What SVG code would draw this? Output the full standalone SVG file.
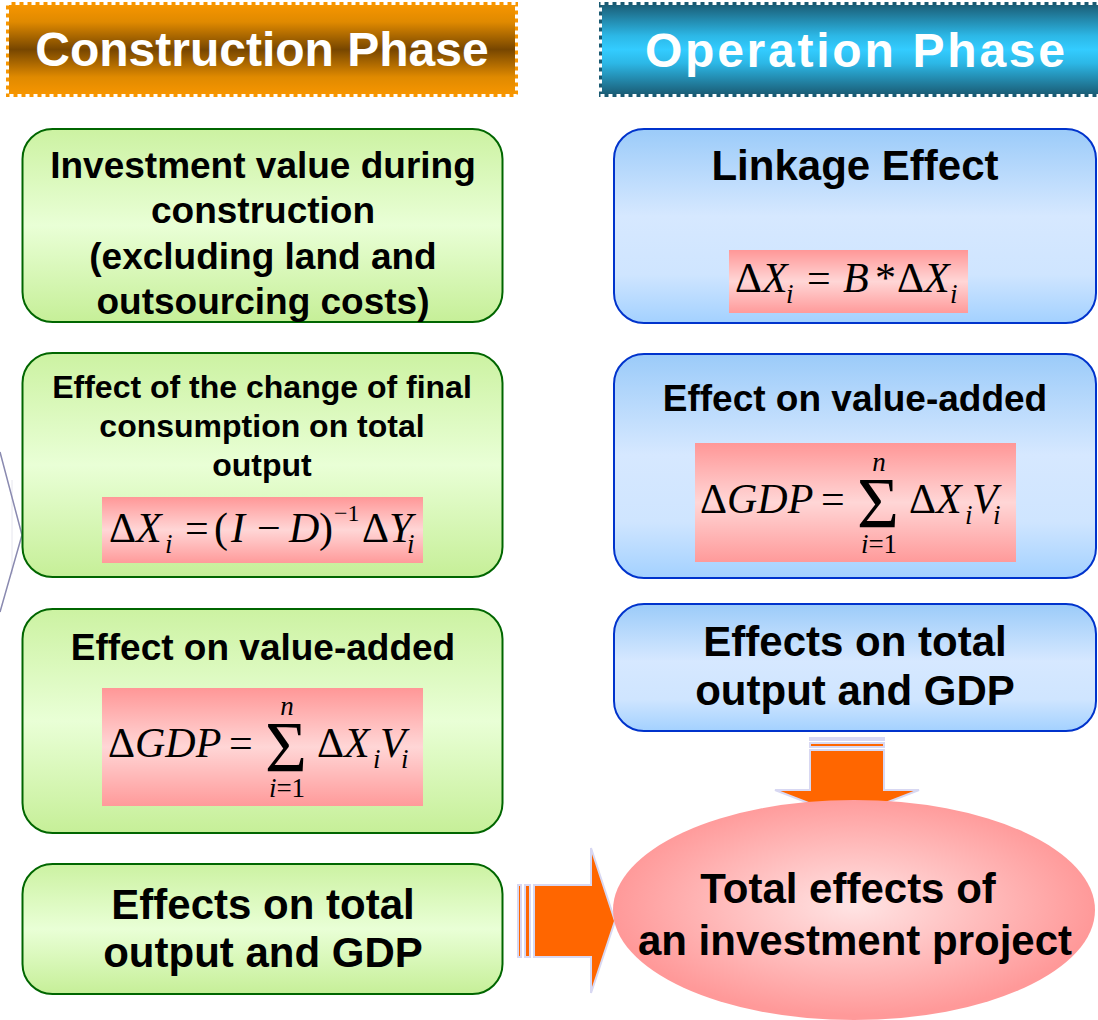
<svg xmlns="http://www.w3.org/2000/svg" width="1098" height="1020" viewBox="0 0 1098 1020">
  <defs>
    <linearGradient id="gConstr" x1="0" y1="0" x2="0" y2="1">
      <stop offset="0" stop-color="#F89600"/>
      <stop offset="0.2" stop-color="#E08A00"/>
      <stop offset="0.5" stop-color="#774600"/>
      <stop offset="0.8" stop-color="#E08A00"/>
      <stop offset="1" stop-color="#F89600"/>
    </linearGradient>
    <linearGradient id="gOper" x1="0" y1="0" x2="0" y2="1">
      <stop offset="0" stop-color="#1A5A72"/>
      <stop offset="0.35" stop-color="#2CB7E6"/>
      <stop offset="0.5" stop-color="#33CCFF"/>
      <stop offset="0.65" stop-color="#2CB7E6"/>
      <stop offset="1" stop-color="#1A5A72"/>
    </linearGradient>
    <linearGradient id="gGreen" x1="0" y1="0" x2="0" y2="1">
      <stop offset="0" stop-color="#CCF2A2"/>
      <stop offset="0.5" stop-color="#E9FFD6"/>
      <stop offset="1" stop-color="#C6EF98"/>
    </linearGradient>
    <linearGradient id="gBlue" x1="0" y1="0" x2="0" y2="1">
      <stop offset="0" stop-color="#9BCBF9"/>
      <stop offset="0.45" stop-color="#D6E8FF"/>
      <stop offset="0.75" stop-color="#CFE5FF"/>
      <stop offset="1" stop-color="#A3D1FF"/>
    </linearGradient>
    <linearGradient id="gPink" x1="0" y1="0" x2="0" y2="1">
      <stop offset="0" stop-color="#FF9797"/>
      <stop offset="0.5" stop-color="#FFD6D6"/>
      <stop offset="1" stop-color="#FF9A9A"/>
    </linearGradient>
    <radialGradient id="gOval" cx="0.5" cy="0.48" r="0.5">
      <stop offset="0" stop-color="#FFE4E4"/>
      <stop offset="1" stop-color="#FF9999"/>
    </radialGradient>
    <style>
      .hdr { font-family: "Liberation Sans", Arial, sans-serif; font-weight: bold; font-size: 48px; fill: #FFFFFF; text-anchor: middle; }
      .dash { fill: none; stroke: #FFFFFF; stroke-width: 3; stroke-dasharray: 4 4; }
      .gbox { fill: url(#gGreen); stroke: #006600; stroke-width: 2; }
      .bbox { fill: url(#gBlue); stroke: #0033CC; stroke-width: 2; }
      .fbox { fill: url(#gPink); }
      .lbl { font-family: "Liberation Sans", Arial, sans-serif; font-weight: bold; fill: #000000; text-anchor: middle; }
      .s32 { font-size: 32px; }
      .s37 { font-size: 37px; }
      .s42 { font-size: 42px; }
      .m { font-family: "Liberation Serif", "Times New Roman", serif; font-size: 42px; fill: #000000; }
      .ms { font-family: "Liberation Serif", "Times New Roman", serif; font-size: 27px; fill: #000000; }
      .sup { font-family: "Liberation Serif", "Times New Roman", serif; font-size: 24px; fill: #000000; }
      .it { font-style: italic; }
      .sig { font-family: "Liberation Serif", "Times New Roman", serif; font-size: 72px; fill: #000000; }
      .arr { fill: #FF6600; stroke: #D8D8F2; stroke-width: 2; }
    </style>
  </defs>

  <!-- phase headers -->
  <g id="hdr-construction">
    <rect x="7.5" y="3.5" width="509" height="92" fill="url(#gConstr)" stroke="#F89600" stroke-width="3"/>
    <rect x="7.5" y="3.5" width="509" height="92" class="dash"/>
    <text class="hdr" x="262" y="66">Construction Phase</text>
  </g>
  <g id="hdr-operation">
    <rect x="600.5" y="3.5" width="520" height="92" fill="url(#gOper)" stroke="#1A5A72" stroke-width="3"/>
    <rect x="600.5" y="3.5" width="520" height="92" class="dash"/>
    <text class="hdr" x="855" y="67" textLength="420" lengthAdjust="spacing">Operation Phase</text>
  </g>

  <!-- faint edge lines at the left margin -->
  <g id="edge">
    <line x1="12" y1="480" x2="12" y2="574" stroke="#E6E6EE" stroke-width="1"/>
    <polyline points="0,452 22,535 0,612" fill="none" stroke="#8A8AB0" stroke-width="1.5"/>
  </g>

  <!-- construction phase column -->
  <g id="c-investment">
    <rect class="gbox" x="22.5" y="129" width="480" height="193" rx="30"/>
    <text class="lbl s37" x="263" y="178">Investment value during</text>
    <text class="lbl s37" x="263" y="223">construction</text>
    <text class="lbl s37" x="263" y="269">(excluding land and</text>
    <text class="lbl s37" x="263" y="314">outsourcing costs)</text>
  </g>

  <g id="c-consumption">
    <rect class="gbox" x="22.5" y="353" width="480" height="224" rx="30"/>
    <text class="lbl s32" x="262" y="398">Effect of the change of final</text>
    <text class="lbl s32" x="262" y="437">consumption on total</text>
    <text class="lbl s32" x="262" y="476">output</text>
    <rect class="fbox" x="102" y="497" width="321" height="66"/>
    <text class="m" x="109" y="542">Δ<tspan class="it">X</tspan></text>
    <text class="ms it" x="165" y="553">i</text>
    <text class="m" x="185" y="542">=</text>
    <text class="m" x="214" y="542">(</text>
    <text class="m it" x="231" y="542">I</text>
    <text class="m" x="257" y="542">−</text>
    <text class="m it" x="289" y="542">D</text>
    <text class="m" x="319" y="542">)</text>
    <text class="sup" x="334" y="521">−1</text>
    <text class="m" x="362" y="542">Δ<tspan class="it">Y</tspan></text>
    <text class="ms it" x="407" y="553">i</text>
  </g>

  <g id="c-valueadded">
    <rect class="gbox" x="22.5" y="609" width="480" height="224" rx="30"/>
    <text class="lbl s37" x="263" y="660">Effect on value-added</text>
    <rect class="fbox" x="102" y="688" width="321" height="118"/>
    <g id="c-gdp-formula">
      <text class="m" x="108" y="757">Δ<tspan class="it">GDP</tspan></text>
      <text class="m" x="229" y="757">=</text>
      <text class="sig" x="265" y="771">Σ</text>
      <text class="ms it" x="287" y="715" text-anchor="middle">n</text>
      <text class="ms" x="287" y="797" text-anchor="middle"><tspan class="it">i</tspan>=1</text>
      <text class="m" x="317" y="757">Δ<tspan class="it">X</tspan></text>
      <text class="ms it" x="373" y="768">i</text>
      <text class="m it" x="380" y="757">V</text>
      <text class="ms it" x="401" y="768">i</text>
    </g>
  </g>

  <g id="c-total">
    <rect class="gbox" x="22.5" y="864" width="480" height="130" rx="30"/>
    <text class="lbl s42" x="263" y="919">Effects on total</text>
    <text class="lbl s42" x="263" y="967">output and GDP</text>
  </g>

  <!-- operation phase column -->
  <g id="o-linkage">
    <rect class="bbox" x="614" y="129" width="482" height="194" rx="30"/>
    <text class="lbl s42" x="855" y="180">Linkage Effect</text>
    <rect class="fbox" x="729" y="250" width="239" height="63"/>
    <text class="m" x="735" y="292">Δ<tspan class="it">X</tspan></text>
    <text class="ms it" x="786" y="303">i</text>
    <text class="m" x="807" y="292">=</text>
    <text class="m it" x="843" y="292">B</text>
    <text class="m" x="875" y="292">*</text>
    <text class="m" x="897" y="292">Δ<tspan class="it">X</tspan></text>
    <text class="ms it" x="950" y="303">i</text>
  </g>

  <g id="o-valueadded">
    <rect class="bbox" x="614" y="354" width="482" height="224" rx="30"/>
    <text class="lbl s37" x="855" y="411">Effect on value-added</text>
    <rect class="fbox" x="695" y="443" width="321" height="119"/>
    <g id="o-gdp-formula" transform="translate(592,-244)">
      <text class="m" x="108" y="757">Δ<tspan class="it">GDP</tspan></text>
      <text class="m" x="229" y="757">=</text>
      <text class="sig" x="265" y="771">Σ</text>
      <text class="ms it" x="287" y="715" text-anchor="middle">n</text>
      <text class="ms" x="287" y="797" text-anchor="middle"><tspan class="it">i</tspan>=1</text>
      <text class="m" x="317" y="757">Δ<tspan class="it">X</tspan></text>
      <text class="ms it" x="373" y="768">i</text>
      <text class="m it" x="380" y="757">V</text>
      <text class="ms it" x="401" y="768">i</text>
    </g>
  </g>

  <g id="o-total">
    <rect class="bbox" x="614" y="604" width="482" height="127" rx="30"/>
    <text class="lbl s42" x="855" y="656">Effects on total</text>
    <text class="lbl s42" x="855" y="705">output and GDP</text>
  </g>

  <!-- block arrows into the result -->
  <g id="connectors">
    <g id="arrow-right">
      <rect class="arr" x="518" y="885" width="3" height="72"/>
      <rect class="arr" x="525" y="885" width="5" height="72"/>
      <polygon class="arr" points="534,885 591,885 591,848 615,921 591,993 591,957 534,957"/>
    </g>
    <g id="arrow-down">
      <rect class="arr" x="810" y="738" width="74" height="2"/>
      <rect class="arr" x="810" y="743" width="74" height="4"/>
      <polygon class="arr" points="810,750 884,750 884,790 919,790 847,818 775,790 810,790"/>
    </g>
  </g>

  <g id="result">
    <ellipse cx="854" cy="910" rx="241" ry="110" fill="url(#gOval)"/>
    <text class="lbl s42" x="848" y="903">Total effects of</text>
    <text class="lbl s42" x="855" y="955">an investment project</text>
  </g>
</svg>
